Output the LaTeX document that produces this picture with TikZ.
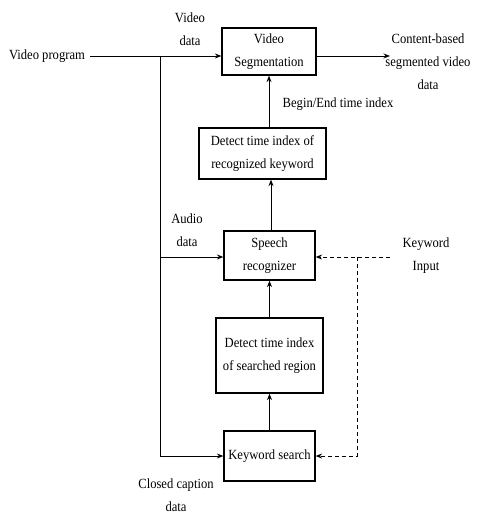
\documentclass[tikz,border=0pt]{standalone}
\usepackage{fontspec}
\setmainfont{Liberation Serif}[FakeStretch=0.9]
\usetikzlibrary{arrows.meta}
\begin{document}
\begin{tikzpicture}[x=1pt,y=-1pt,
  box/.style={draw,line width=1.2pt,align=center,inner sep=0pt,font=\fontsize{14}{23}\selectfont},
  lbl/.style={align=center,inner sep=0pt,font=\fontsize{14}{23}\selectfont},
  conn/.style={line width=1pt,-{Stealth[length=6.5pt,width=5pt]}},
  dconn/.style={line width=1pt,dashed,dash pattern=on 4pt off 3pt}
]
\useasboundingbox (0,0) rectangle (478,514);
\node[box,minimum width=94pt,minimum height=47pt] (vs) at (269,51.5) {Video\\Segmentation};
\node[box,minimum width=127pt,minimum height=51pt] (dr) at (262.5,153.5) {Detect time index of\\recognized keyword};
\node[box,minimum width=91pt,minimum height=49pt] (sr) at (269.5,255.5) {Speech\\recognizer};
\node[box,minimum width=107pt,minimum height=75pt] (ds) at (269.5,355.5) {Detect time index\\of searched region};
\node[box,minimum width=91pt,minimum height=50pt] (ks) at (269.5,456) {Keyword search};

\node[lbl] (vp) at (47,56) {Video program};
\node[lbl] (vd) at (190,29) {Video\\data};
\node[lbl] (out) at (428,62) {Content-based\\segmented video\\data};
\node[lbl] (be) at (338,104) {Begin/End time index};
\node[lbl] (ad) at (187,230) {Audio\\data};
\node[lbl] (ki) at (426,256) {Keyword\\Input};
\node[lbl] (cc) at (176,495.5) {Closed caption\\data};

\coordinate (j) at (160,56);
\coordinate (ja) at (160,257);
\coordinate (jk) at (160,456);
\coordinate (oe) at (390,56);
\coordinate (ke) at (390,257);
\coordinate (kd) at (357,257);
\coordinate (kb) at (357,456);

\draw[conn] (vp.east) ++(5,0) -- (vs.west |- j);
\draw[conn] (vs.east |- j) -- (oe);
\draw[line width=1pt] (j) -- (jk);
\draw[conn] (ja) -- (sr.west |- ja);
\draw[conn] (jk) -- (ks.west);
\draw[conn] (dr.north -| vs.south) -- (vs.south);
\draw[conn] (sr.north -| 271,0) -- (dr.south -| 271,0);
\draw[conn] (ks.north) -- (ds.south);
\draw[conn] (ds.north) -- (sr.south);
\draw[dconn,-{Stealth[length=6.5pt,width=5pt]}] (ke) -- (sr.east |- ke);
\draw[dconn,-{Stealth[length=6.5pt,width=5pt]}] (kd) -- (kb) -- (ks.east |- kb);
\end{tikzpicture}
\end{document}
